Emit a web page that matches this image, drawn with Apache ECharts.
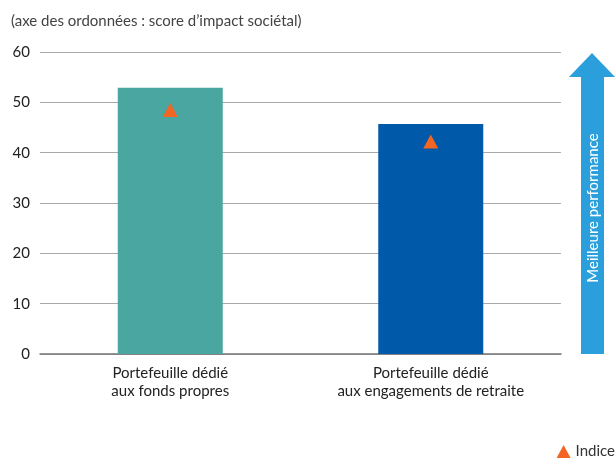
<!DOCTYPE html>
<html><head><meta charset="utf-8">
<script src="https://cdn.jsdelivr.net/npm/echarts@6/dist/echarts.min.js"></script>
<style>html,body{margin:0;padding:0;background:#fff}#c{width:616px;height:464px}</style>
</head><body><div id="c"></div>
<script>
const categories = ['Portefeuille dédié\naux fonds propres', 'Portefeuille dédié\naux engagements de retraite'];
const portfolioValues = [52.9, 45.7];
const indexValues = [48.5, 42.2];
const barColors = ['#4aa6a0', '#0059a9'];
const yTicks = [0, 10, 20, 30, 40, 50, 60];

const chart = echarts.init(document.getElementById('c'));
const font = 'Lato, "Open Sans", sans-serif';
chart.setOption({
  animation: false,
  textStyle: { fontFamily: font },
  title: {
    text: '(axe des ordonnées : score d’impact sociétal)',
    left: 6, top: 9,
    textStyle: { fontSize: 15, fontWeight: 'normal', color: '#444', fontFamily: font }
  },
  legend: {
    data: [{ name: 'Indice', icon: 'triangle' }],
    right: -4, bottom: 0,
    itemWidth: 14, itemHeight: 13, itemGap: 6,
    textStyle: { fontSize: 15, color: '#333', fontFamily: font }
  },
  grid: { left: 40, right: 55, top: 52, bottom: 110, containLabel: false },
  xAxis: {
    type: 'category',
    data: categories,
    axisLine: { lineStyle: { color: '#777', width: 1.5 } },
    axisTick: { show: false },
    axisLabel: { fontSize: 15, color: '#222', lineHeight: 18, margin: 10, fontFamily: font }
  },
  yAxis: {
    type: 'value', min: yTicks[0], max: yTicks[yTicks.length - 1], interval: 10,
    axisLine: { show: false }, axisTick: { show: false },
    axisLabel: { fontSize: 15, color: '#222', margin: 10, fontFamily: font },
    splitLine: { lineStyle: { color: '#aaa', width: 1.2 } }
  },
  series: [
    {
      type: 'bar', name: 'Portefeuille', barWidth: 105,
      data: portfolioValues.map((v, i) => ({ value: v, itemStyle: { color: barColors[i] } })),
      z: 2
    },
    {
      type: 'scatter', name: 'Indice', symbol: 'triangle', symbolSize: [15, 14],
      itemStyle: { color: '#f26522', opacity: 1 },
      data: indexValues, z: 3
    }
  ],
  graphic: [
    {
      type: 'polygon',
      shape: { points: [[581, 354], [581, 77], [569, 77], [592, 53], [615, 77], [604, 77], [604, 354]] },
      style: { fill: '#2b9fdb' }
    },
    {
      type: 'text',
      x: 593, y: 208, rotation: Math.PI / 2,
      style: { text: 'Meilleure performance', fill: '#fff', fontSize: 15, fontFamily: font, align: 'center', verticalAlign: 'middle' }
    }
  ]
});
</script></body></html>
